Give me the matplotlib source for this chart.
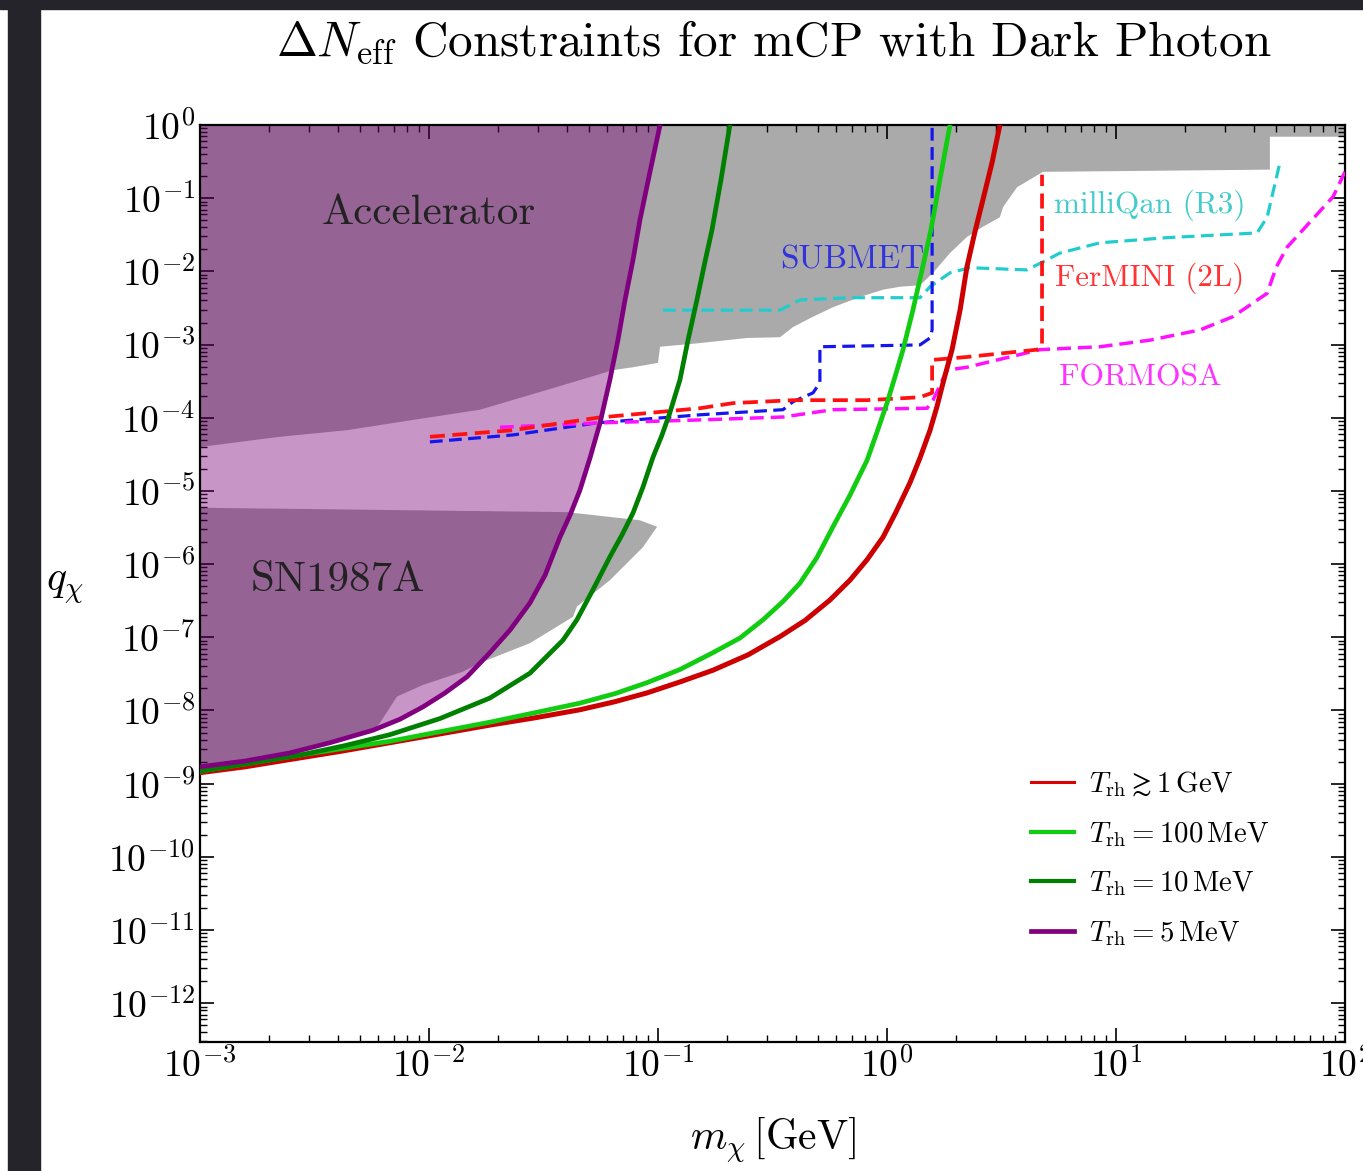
import numpy as np
import matplotlib.pyplot as plt
from matplotlib.patches import Rectangle
from matplotlib.lines import Line2D

plt.rcParams['font.family'] = 'cmr10'
plt.rcParams['mathtext.fontset'] = 'cm'
plt.rcParams['axes.unicode_minus'] = False

# all curves stored as log10(m / GeV), log10(q)
# Delta N_eff bounds for different reheating temperatures
red_lm = [-3.0, -2.803, -2.607, -2.389, -2.17, -1.952, -1.734, -1.537, -1.341, -1.188,
          -1.048, -0.904, -0.76, -0.607, -0.467, -0.358, -0.249, -0.162, -0.087, -0.017,
          0.039, 0.10, 0.144, 0.188, 0.218, 0.245, 0.284, 0.319, 0.349, 0.384, 0.419,
          0.459, 0.493]
red_lq = [-8.85, -8.77, -8.67, -8.56, -8.44, -8.32, -8.20, -8.10, -7.99, -7.88,
          -7.76, -7.61, -7.45, -7.24, -6.99, -6.77, -6.49, -6.22, -5.94, -5.63,
          -5.29, -4.89, -4.55, -4.17, -3.85, -3.52, -3.07, -2.53, -1.94, -1.46, -1.02,
          -0.51, 0.0]

lgreen_lm = [-3.0, -2.607, -2.17, -1.734, -1.537, -1.341, -1.188, -1.048, -0.904, -0.76,
             -0.642, -0.541, -0.454, -0.38, -0.306, -0.236, -0.162, -0.087, -0.044, 0.0,
             0.035, 0.07, 0.113, 0.153, 0.192, 0.231, 0.275]
lgreen_lq = [-8.83, -8.63, -8.42, -8.16, -8.03, -7.90, -7.77, -7.62, -7.44, -7.21,
             -7.01, -6.76, -6.51, -6.26, -5.91, -5.49, -5.06, -4.58, -4.20, -3.80,
             -3.44, -3.07, -2.53, -1.98, -1.43, -0.75, 0.0]

dgreen_lm = [-3.0, -2.782, -2.563, -2.367, -2.17, -1.952, -1.734, -1.559, -1.415, -1.354,
             -1.284, -1.21, -1.157, -1.109, -1.066, -1.022, -0.983, -0.948, -0.904, -0.869,
             -0.83, -0.795, -0.764, -0.725, -0.686]
dgreen_lq = [-8.83, -8.72, -8.61, -8.48, -8.33, -8.11, -7.83, -7.49, -7.04, -6.76,
             -6.35, -5.90, -5.60, -5.30, -4.95, -4.54, -4.24, -3.93, -3.48, -2.94,
             -2.39, -1.87, -1.43, -0.75, 0.0]

purple_lm = [-3.0, -2.803, -2.607, -2.432, -2.245, -2.127, -2.026, -1.93, -1.834, -1.734,
             -1.646, -1.559, -1.493, -1.428, -1.384, -1.341, -1.297, -1.253, -1.21, -1.175,
             -1.144, -1.109, -1.079, -1.035, -0.991]
purple_lq = [-8.77, -8.69, -8.58, -8.44, -8.27, -8.12, -7.95, -7.76, -7.54, -7.21,
             -6.90, -6.53, -6.15, -5.63, -5.33, -4.99, -4.55, -4.07, -3.48, -2.94,
             -2.39, -1.84, -1.30, -0.64, 0.0]

# accelerator exclusion: lower edge, right to left
acc_lm = [2.0, 1.672, 1.672, 0.681, 0.568, 0.507, 0.493, 0.419, 0.349, 0.275, 0.201, 0.144,
          0.057, -0.017, -0.118, -0.236, -0.323, -0.41, -0.467, -0.611, -0.817, -0.991,
          -1.0, -1.109, -1.197, -1.485, -1.777, -2.07, -2.358, -2.651, -3.0]
acc_lq = [-0.16, -0.16, -0.61, -0.64, -0.85, -1.12, -1.26, -1.39, -1.53, -1.75, -2.02, -2.19,
          -2.21, -2.25, -2.35, -2.49, -2.62, -2.76, -2.90, -2.91, -2.98, -3.03,
          -3.25, -3.31, -3.35, -3.62, -3.89, -4.03, -4.17, -4.26, -4.40]

# SN1987A exclusion outline
sn_lm = [-3.0, -1.397, -1.197, -1.08, -1.004, -1.066, -1.21, -1.354, -1.371, -1.559,
         -1.777, -1.852, -2.026, -2.14, -2.214, -2.258, -2.607, -3.0]
sn_lq = [-5.23, -5.29, -5.36, -5.40, -5.49, -5.77, -6.22, -6.58, -6.72, -7.08,
         -7.35, -7.47, -7.65, -7.81, -8.17, -8.31, -8.58, -8.77]

# projected sensitivities
submet_lm = [-1.996, -1.633, -1.266, -0.817, -0.454, -0.41, -0.323, -0.293, -0.293, 0.144,
             0.188, 0.197, 0.197]
submet_lq = [-4.33, -4.235, -4.07, -3.96, -3.89, -3.78, -3.66, -3.52, -3.03, -3.005,
             -2.91, -2.8, 0.0]

fermini_lm = [-1.996, -1.633, -1.266, -0.817, -0.672, -0.41, -0.087, 0.144, 0.197, 0.197,
              0.349, 0.655, 0.677, 0.677]
fermini_lq = [-4.26, -4.17, -4.0, -3.87, -3.80, -3.76, -3.76, -3.72, -3.66, -3.21,
              -3.17, -3.07, -3.03, -0.68]

formosa_lm = [-1.69, -1.253, -0.817, -0.454, -0.236, 0.175, 0.201, 0.262, 0.349, 0.668,
              0.93, 1.148, 1.367, 1.51, 1.66, 1.70, 1.747, 1.948, 2.0]
formosa_lq = [-4.13, -4.07, -4.03, -3.99, -3.89, -3.87, -3.76, -3.35, -3.31, -3.07,
              -3.03, -2.94, -2.80, -2.62, -2.30, -1.94, -1.67, -0.98, -0.64]

milliqan_lm = [-0.978, -0.467, -0.38, -0.162, 0.144, 0.188, 0.275, 0.362, 0.611, 0.681,
               0.755, 0.93, 1.22, 1.616, 1.66, 1.716]
milliqan_lq = [-2.53, -2.53, -2.39, -2.36, -2.36, -2.21, -2.02, -1.95, -1.98, -1.87,
               -1.75, -1.61, -1.54, -1.475, -1.26, -0.51]

legend_labels = [r'$T_{\rm rh} \gtrsim 1\,{\rm GeV}$', r'$T_{\rm rh} = 100\,{\rm MeV}$',
                 r'$T_{\rm rh} = 10\,{\rm MeV}$', r'$T_{\rm rh} = 5\,{\rm MeV}$']


def p(lx, ly):
    return 10.0 ** np.array(lx), 10.0 ** np.array(ly)


W, H = 1363, 1171
fig = plt.figure(figsize=(W / 100, H / 100), dpi=100)
fig.patch.set_facecolor('white')
fig.patches.append(Rectangle((8 / W, 0), 32 / W, 1, transform=fig.transFigure,
                             color='#24242a', zorder=0))
fig.patches.append(Rectangle((0, 1 - 9 / H), 1, 9 / H, transform=fig.transFigure,
                             color='#24242a', zorder=0))

ax = fig.add_axes([200 / W, 1 - 1042 / H, 1145 / W, 917 / H])
ax.set_xscale('log')
ax.set_yscale('log')
ax.set_xlim(1e-3, 1e2)
ax.set_ylim(10 ** -12.53, 1.0)

# gray exclusion regions
ax_x, ax_y = p(acc_lm, acc_lq)
ax.fill(np.r_[ax_x, 1e-3, 1e2], np.r_[ax_y, 1.0, 1.0], color='#aaaaaa', lw=0, zorder=1)
sx, sy = p(sn_lm, sn_lq)
ax.fill(sx, sy, color='#aaaaaa', lw=0, zorder=1)

# purple shaded Delta N_eff region
px_, py_ = p(purple_lm, purple_lq)
ax.fill(np.r_[px_, 1e-3], np.r_[py_, 1.0], color=(0.47, 0.0, 0.47), alpha=0.41,
        lw=0, zorder=2)

dash = (0, (4, 2))
x, y = p(milliqan_lm, milliqan_lq)
ax.plot(x, y, color='#22cccc', lw=2.3, ls=dash, zorder=3)
x, y = p(submet_lm, submet_lq)
ax.plot(x, y, color='#1515ee', lw=2.3, ls=dash, zorder=3)
x, y = p(formosa_lm, formosa_lq)
ax.plot(x, y, color='#ff11ff', lw=2.5, ls=dash, zorder=3)
x, y = p(fermini_lm, fermini_lq)
ax.plot(x, y, color='#ff1111', lw=2.7, ls=dash, zorder=3)

x, y = p(red_lm, red_lq)
ax.plot(x, y, color='#cc0000', lw=3.6, zorder=5, solid_joinstyle='round')
x, y = p(lgreen_lm, lgreen_lq)
ax.plot(x, y, color='#11cc11', lw=3.4, zorder=5, solid_joinstyle='round')
x, y = p(dgreen_lm, dgreen_lq)
ax.plot(x, y, color='#008000', lw=3.4, zorder=5, solid_joinstyle='round')
x, y = p(purple_lm, purple_lq)
ax.plot(x, y, color='#800080', lw=3.4, zorder=5, solid_joinstyle='round')

ax.text(10 ** -2.0, 10 ** -1.20, 'Accelerator', fontsize=31, ha='center', va='center',
        color='#222222', zorder=6)
ax.text(10 ** -2.40, 10 ** -6.22, 'SN1987A', fontsize=31, ha='center', va='center',
        color='#222222', zorder=6)
ax.text(10 ** -0.153, 10 ** -1.84, 'SUBMET', fontsize=24, ha='center', va='center',
        color='#3333dd', zorder=6)
ax.text(10 ** 1.148, 10 ** -1.09, 'milliQan (R3)', fontsize=22.5, ha='center', va='center',
        color='#44cccc', zorder=6)
ax.text(10 ** 1.148, 10 ** -2.09, 'FerMINI (2L)', fontsize=22.3, ha='center', va='center',
        color='#ff3333', zorder=6)
ax.text(10 ** 1.105, 10 ** -3.46, 'FORMOSA', fontsize=22.7, ha='center', va='center',
        color='#ff33ff', zorder=6)

handles = [Line2D([], [], color='#dd0000', lw=2.2), Line2D([], [], color='#11cc11', lw=3),
           Line2D([], [], color='#008000', lw=3), Line2D([], [], color='#800080', lw=3.4)]
ax.legend(handles, legend_labels, loc='upper left', bbox_to_anchor=(0.703, 0.326),
          frameon=False, fontsize=20.8, handlelength=1.5, handletextpad=0.5,
          labelspacing=0.72)

ax.tick_params(which='both', direction='in', top=True, right=True, labelsize=27)
ax.tick_params(which='major', length=10, width=1.2)
ax.tick_params(which='minor', length=5, width=1)
ax.set_yticks(10.0 ** np.arange(-12, 1))
ax.yaxis.set_minor_locator(plt.matplotlib.ticker.LogLocator(base=10, subs=np.arange(2, 10),
                                                              numticks=30))
ax.yaxis.set_minor_formatter(plt.NullFormatter())
for s in ax.spines.values():
    s.set_linewidth(1.6)

fig.text(774 / W, 1 - 42 / H, r'$\Delta N_{\rm eff}$ Constraints for mCP with Dark Photon',
         fontsize=35.4, ha='center', va='center')
fig.text(773 / W, 1 - 1140 / H, r'$m_\chi\,[{\rm GeV}]$', fontsize=30, ha='center',
         va='center')
fig.text(65 / W, 1 - 587 / H, r'$q_\chi$', fontsize=30, ha='center', va='center')

fig.savefig('out.png', dpi=100)
